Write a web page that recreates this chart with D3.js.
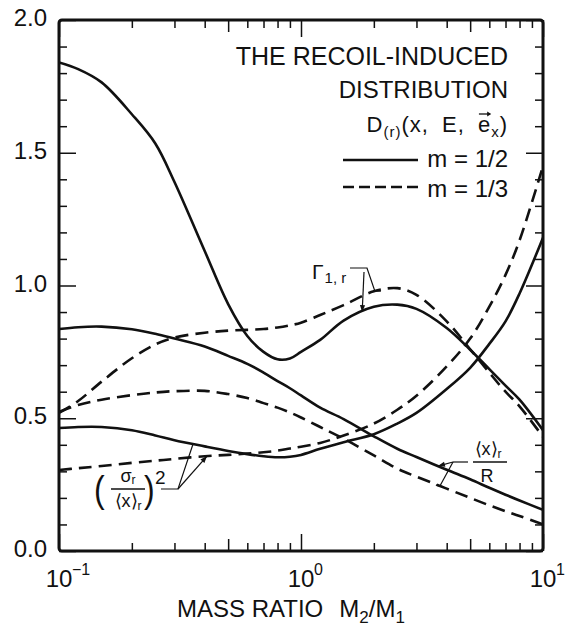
<!DOCTYPE html>
<html>
<head>
<meta charset="utf-8">
<script src="https://cdn.jsdelivr.net/npm/d3@7"></script>
<style>
  html, body { margin: 0; padding: 0; background: #fff; }
  svg { display: block; font-family: "Liberation Sans", Arial, sans-serif; }
</style>
</head>
<body>
<svg id="chart" width="566" height="629"></svg>
<script>
// Mass ratio M2/M1 sampling points
const massRatio = [0.1, 0.12, 0.15, 0.2, 0.25, 0.3, 0.4, 0.5, 0.6, 0.7, 0.8, 0.9,
                   1.0, 1.2, 1.5, 2, 2.5, 3, 4, 5, 6, 7, 8, 10];

// Gamma_{1,r}
const gammaHalf  = [1.84, 1.815, 1.765, 1.645, 1.535, 1.39, 1.13, 0.93, 0.81, 0.75, 0.722, 0.725,
                    0.75, 0.795, 0.868, 0.92, 0.928, 0.912, 0.84, 0.758, 0.685, 0.623, 0.57, 0.455];
const gammaThird = [0.52, 0.565, 0.638, 0.726, 0.778, 0.804, 0.822, 0.83, 0.833, 0.836, 0.842, 0.85,
                    0.86, 0.889, 0.926, 0.978, 0.99, 0.965, 0.865, 0.76, 0.672, 0.60, 0.545, 0.43];

// <x>_r / R
const meanHalf   = [0.836, 0.843, 0.845, 0.835, 0.818, 0.80, 0.77, 0.735, 0.705, 0.672, 0.64, 0.613,
                    0.586, 0.54, 0.497, 0.432, 0.385, 0.354, 0.306, 0.27, 0.238, 0.212, 0.19, 0.155];
const meanThird  = [0.524, 0.55, 0.57, 0.587, 0.597, 0.602, 0.603, 0.591, 0.576, 0.557, 0.54, 0.522,
                    0.503, 0.467, 0.423, 0.36, 0.31, 0.28, 0.235, 0.2, 0.172, 0.15, 0.132, 0.10];

// (sigma_r / <x>_r)^2
const varHalf    = [0.463, 0.467, 0.467, 0.455, 0.435, 0.417, 0.394, 0.377, 0.365, 0.357, 0.353, 0.355,
                    0.362, 0.385, 0.41, 0.44, 0.48, 0.52, 0.61, 0.69, 0.78, 0.865, 0.97, 1.18];
const varThird   = [0.305, 0.312, 0.32, 0.332, 0.34, 0.347, 0.357, 0.362, 0.367, 0.372, 0.378, 0.386,
                    0.393, 0.407, 0.435, 0.48, 0.532, 0.585, 0.695, 0.80, 0.92, 1.04, 1.17, 1.45];

// Axis labelling
const yTickValues = [0, 0.5, 1.0, 1.5, 2.0];
const yTickLabels = ["0.0", "0.5", "1.0", "1.5", "2.0"];
const xDecades    = [0.1, 1, 10];
const xExponents  = ["\u22121", "0", "1"];

const ink = "#111";
const svg = d3.select("#chart");

const x = d3.scaleLog().domain([0.1, 10]).range([59, 543]);
const y = d3.scaleLinear().domain([0, 2]).range([551, 20]);
const [x0, x1] = x.range();
const [y0, y1] = y.range();

// ---- curves ----
svg.append("clipPath").attr("id", "plot-clip")
  .append("rect").attr("x", x0).attr("y", y1).attr("width", x1 - x0).attr("height", y0 - y1);

const line = d3.line()
  .x(d => x(d[0]))
  .y(d => y(d[1]))
  .curve(d3.curveCatmullRom.alpha(0.5));

const series = [
  { values: gammaHalf,  dash: null },
  { values: gammaThird, dash: "13,7" },
  { values: meanHalf,   dash: null },
  { values: meanThird,  dash: "13,7" },
  { values: varHalf,    dash: null },
  { values: varThird,   dash: "13,7" }
];

const curves = svg.append("g").attr("clip-path", "url(#plot-clip)");
series.forEach(s => {
  curves.append("path")
    .datum(massRatio.map((m, i) => [m, s.values[i]]))
    .attr("d", line)
    .attr("fill", "none")
    .attr("stroke", ink)
    .attr("stroke-width", 2.6)
    .attr("stroke-linecap", "butt")
    .attr("stroke-dasharray", s.dash);
});

// ---- frame and ticks ----
const xTickVals = [];
[0.1, 1].forEach(d => { for (let k = 1; k < 10; k++) xTickVals.push(+(k * d).toPrecision(2)); });
xTickVals.push(10);
const xLen = v => {
  const k = Math.round(v / Math.pow(10, Math.floor(Math.log10(v) + 1e-9)));
  return k === 1 ? 17 : (k === 5 ? 12 : 8);
};
const yTickVals = d3.range(0, 21).map(i => i / 10);
const yLen = v => (Math.round(v * 10) % 5 === 0 ? 17 : 8);

function styleTicks(g) {
  g.select(".domain").remove();
  g.selectAll(".tick line").attr("stroke", ink).attr("stroke-width", 1.5);
}

svg.append("g").attr("transform", `translate(0,${y0})`)
  .call(d3.axisBottom(x).tickValues(xTickVals).tickFormat("").tickSizeOuter(0))
  .call(styleTicks)
  .call(g => g.selectAll(".tick line").attr("y2", d => -xLen(d)));
svg.append("g").attr("transform", `translate(0,${y1})`)
  .call(d3.axisTop(x).tickValues(xTickVals).tickFormat("").tickSizeOuter(0))
  .call(styleTicks)
  .call(g => g.selectAll(".tick line").attr("y2", d => xLen(d)));
svg.append("g").attr("transform", `translate(${x0},0)`)
  .call(d3.axisLeft(y).tickValues(yTickVals).tickFormat("").tickSizeOuter(0))
  .call(styleTicks)
  .call(g => g.selectAll(".tick line").attr("x2", d => yLen(d)));
svg.append("g").attr("transform", `translate(${x1},0)`)
  .call(d3.axisRight(y).tickValues(yTickVals).tickFormat("").tickSizeOuter(0))
  .call(styleTicks)
  .call(g => g.selectAll(".tick line").attr("x2", d => -yLen(d)));

svg.append("rect")
  .attr("x", x0).attr("y", y1).attr("width", x1 - x0).attr("height", y0 - y1)
  .attr("rx", 3)
  .attr("fill", "none").attr("stroke", ink).attr("stroke-width", 3);

// ---- tick labels ----
svg.append("g").attr("transform", `translate(${x0},0)`)
  .call(d3.axisLeft(y).tickValues(yTickValues).tickSize(0).tickPadding(12)
    .tickFormat((d, i) => yTickLabels[i]))
  .call(g => g.select(".domain").remove())
  .call(g => g.selectAll("text")
    .attr("font-family", "Liberation Sans, Arial, sans-serif")
    .attr("font-size", 24).attr("fill", ink).attr("dy", "0.23em"));

const xLab = svg.append("g").attr("fill", ink);
xDecades.forEach((d, i) => {
  xLab.append("text").attr("x", x(d)).attr("y", 587)
    .attr("text-anchor", "middle").attr("font-size", 24).text("10");
  xLab.append("text").attr("x", x(d) + 13).attr("y", 575)
    .attr("font-size", 16).text(xExponents[i]);
});

// axis title
const title = svg.append("text").attr("x", 177).attr("y", 617)
  .attr("font-size", 24).attr("fill", ink);
title.append("tspan").text("MASS RATIO");
title.append("tspan").attr("dx", 16).text("M");
title.append("tspan").attr("font-size", 17).attr("dy", 6).text("2");
title.append("tspan").attr("dy", -6).text("/M");
title.append("tspan").attr("font-size", 17).attr("dy", 6).text("1");

// ---- legend ----
const leg = svg.append("g").attr("fill", ink);
leg.append("text").attr("x", 508).attr("y", 65).attr("text-anchor", "end")
  .attr("font-size", 25).text("THE RECOIL-INDUCED");
leg.append("text").attr("x", 508).attr("y", 98).attr("text-anchor", "end")
  .attr("font-size", 24).text("DISTRIBUTION");

const dText = leg.append("text").attr("x", 508).attr("y", 132).attr("text-anchor", "end")
  .attr("font-size", 22).attr("letter-spacing", 1).attr("word-spacing", 6);
dText.append("tspan").text("D");
dText.append("tspan").attr("font-size", 15).attr("dy", 5).text("(r)");
dText.append("tspan").attr("dy", -5).text("(x, E, e");
dText.append("tspan").attr("font-size", 15).attr("dy", 5).text("x");
dText.append("tspan").attr("dy", -5).text(")");

// vector arrow over the "e"
{
  const node = dText.node();
  const idx = node.textContent.indexOf("e");
  const a = node.getStartPositionOfChar(idx);
  const b = node.getEndPositionOfChar(idx);
  const ay = 114;
  leg.append("line").attr("x1", a.x + 1).attr("x2", b.x - 1).attr("y1", ay).attr("y2", ay)
    .attr("stroke", ink).attr("stroke-width", 1.3);
  leg.append("path")
    .attr("d", `M${b.x},${ay}l-4,-2.5l0,5z`).attr("fill", ink);
}

leg.append("line").attr("x1", 343).attr("x2", 418).attr("y1", 160).attr("y2", 160)
  .attr("stroke", ink).attr("stroke-width", 2.4);
leg.append("text").attr("x", 508).attr("y", 167).attr("text-anchor", "end")
  .attr("font-size", 24).text("m = 1/2");
leg.append("line").attr("x1", 343).attr("x2", 418).attr("y1", 187).attr("y2", 187)
  .attr("stroke", ink).attr("stroke-width", 2.4).attr("stroke-dasharray", "11,5");
leg.append("text").attr("x", 508).attr("y", 197).attr("text-anchor", "end")
  .attr("font-size", 24).text("m = 1/3");

// ---- curve annotations ----
function valueAt(values, m) {
  const lm = Math.log10(m);
  for (let i = 0; i < massRatio.length - 1; i++) {
    const a = Math.log10(massRatio[i]), b = Math.log10(massRatio[i + 1]);
    if (lm >= a && lm <= b) {
      const t = (lm - a) / (b - a);
      return values[i] + t * (values[i + 1] - values[i]);
    }
  }
  return values[values.length - 1];
}
const onCurve = (values, m) => [x(m), y(valueAt(values, m))];

const ann = svg.append("g").attr("fill", ink);
function leader(points) {
  ann.append("path").attr("d", d3.line()(points))
    .attr("fill", "none").attr("stroke", ink).attr("stroke-width", 1.2);
}
function arrowHead(from, to, len = 7, half = 2.6) {
  const dx = to[0] - from[0], dy = to[1] - from[1], L = Math.hypot(dx, dy);
  const ux = dx / L, uy = dy / L;
  const bx = to[0] - ux * len, by = to[1] - uy * len;
  ann.append("path")
    .attr("d", `M${to[0]},${to[1]}L${bx - uy * half},${by + ux * half}L${bx + uy * half},${by - ux * half}Z`);
}

// Gamma_{1,r}
{
  const knee = [367, 268];
  const tipD = onCurve(gammaThird, 2.02);
  const tipS = onCurve(gammaHalf, 1.79);
  leader([[350, 268], knee, tipD, [tipD[0] + 6, tipD[1]]]);
  leader([[knee[0] - 3, knee[1] + 4], tipS]);
  arrowHead([knee[0] - 3, knee[1] + 4], tipS);
  const t = ann.append("text").attr("x", 312).attr("y", 279).attr("font-size", 21);
  t.append("tspan").text("\u0393");
  t.append("tspan").attr("font-size", 15).attr("dy", 4).attr("dx", 1).text("1, r");
}

// (sigma_r / <x>_r)^2
{
  const knee = [178, 489];
  const tipS = onCurve(varHalf, 0.358);
  const tipD = onCurve(varThird, 0.409);
  leader([[161, 489], knee, tipS]);
  leader([knee, tipD]);
  arrowHead(knee, tipD);
  ann.append("text").attr("x", 94).attr("y", 502).attr("font-size", 32)
    .attr("transform", "translate(94,502) scale(1,1.15) translate(-94,-502)").text("(");
  const num = ann.append("text").attr("x", 128).attr("y", 482).attr("text-anchor", "middle").attr("font-size", 18);
  num.append("tspan").text("\u03c3");
  num.append("tspan").attr("font-size", 12).attr("dy", 2).text("r");
  ann.append("line").attr("x1", 111).attr("x2", 145).attr("y1", 489).attr("y2", 489)
    .attr("stroke", ink).attr("stroke-width", 1.7);
  const den = ann.append("text").attr("x", 128).attr("y", 507).attr("text-anchor", "middle").attr("font-size", 18);
  den.append("tspan").text("\u27e8x\u27e9");
  den.append("tspan").attr("font-size", 12).attr("dy", 3).text("r");
  ann.append("text").attr("x", 144).attr("y", 502).attr("font-size", 32)
    .attr("transform", "translate(144,502) scale(1,1.15) translate(-144,-502)").text(")");
  ann.append("text").attr("x", 155).attr("y", 484).attr("font-size", 19).text("2");
}

// <x>_r / R
{
  const knee = [453, 462];
  const tipS = onCurve(meanHalf, 3.68);
  const tipD = onCurve(meanThird, 3.75);
  leader([[468, 462], knee]);
  leader([knee, tipS]);
  arrowHead(knee, tipS);
  leader([knee, tipD]);
  ann.append("line").attr("x1", tipD[0] - 4).attr("x2", tipD[0] + 4)
    .attr("y1", tipD[1] - 1).attr("y2", tipD[1] + 1).attr("stroke", ink).attr("stroke-width", 1.6);
  const num = ann.append("text").attr("x", 488).attr("y", 455).attr("text-anchor", "middle").attr("font-size", 18);
  num.append("tspan").text("\u27e8x\u27e9");
  num.append("tspan").attr("font-size", 12).attr("dy", 3).text("r");
  ann.append("line").attr("x1", 473).attr("x2", 507).attr("y1", 462).attr("y2", 462)
    .attr("stroke", ink).attr("stroke-width", 1.7);
  ann.append("text").attr("x", 487).attr("y", 482).attr("text-anchor", "middle").attr("font-size", 18).text("R");
}
</script>
</body>
</html>
